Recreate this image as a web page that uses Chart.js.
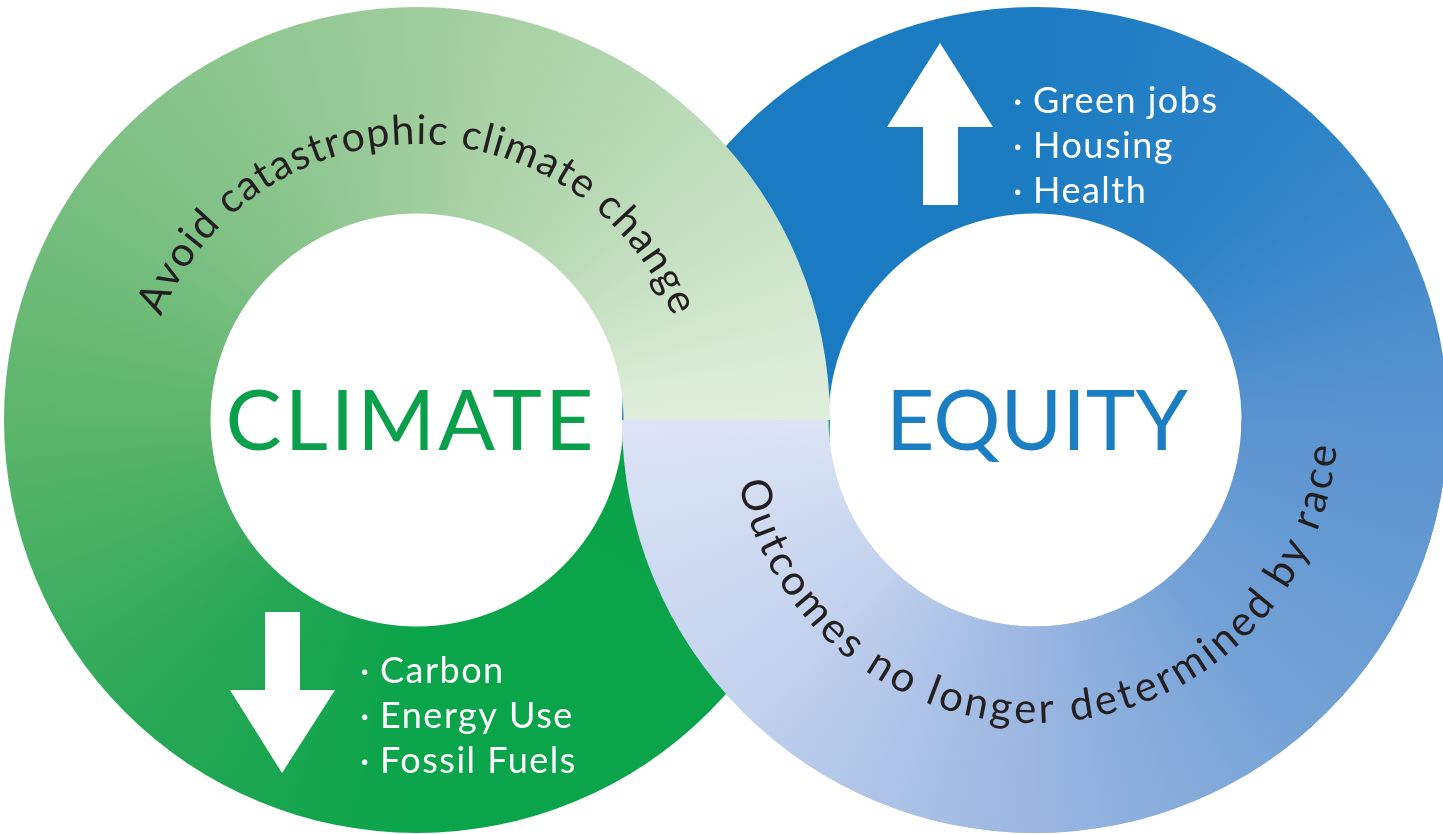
<!DOCTYPE html>
<html>
<head>
<meta charset="utf-8">
<script src="https://cdn.jsdelivr.net/npm/chart.js@4.4.0/dist/chart.umd.min.js"></script>
<style>
html, body { margin: 0; padding: 0; background: #fff; width: 1443px; height: 834px; overflow: hidden; }
.ring { position: absolute; }
.ring canvas { display: block; }
</style>
</head>
<body>
<div class="ring" id="equityBack"><canvas id="ringEquityBack" width="826" height="826"></canvas></div>
<div class="ring" id="climateRing"><canvas id="ringClimate" width="826" height="826"></canvas></div>
<div class="ring" id="equityFront"><canvas id="ringEquityFront" width="826" height="826"></canvas></div>
<script>
// dados do diagrama
const ringNames = ['CLIMATE', 'EQUITY'];
const halfLabels = ['Top half', 'Bottom half'];
const climateValues = [50, 50];
const equityValues = [50, 50];
const climateGoal = 'Avoid catastrophic climate change';
const equityGoal = 'Outcomes no longer determined by race';
const climateDown = ['Carbon', 'Energy Use', 'Fossil Fuels'];
const equityUp = ['Green jobs', 'Housing', 'Health'];

// geometria dos aneis
const R = 413;
const climateCenter = { x: 417, y: 420 };
const equityCenter = { x: 1035, y: 420 };

// cores (gradiente conico)
const climateStops = [[0, '#0aa34a'], [0.25, '#0aa44a'], [0.36, '#26a756'], [0.5, '#5cb56b'], [0.62, '#80c186'], [0.75, '#9fcd9c'], [0.88, '#bedcba'], [1, '#e1efdd']];
const equityStops = [[0, '#1a7ac1'], [0.25, '#1c7cc2'], [0.38, '#2f84c8'], [0.5, '#5a93cf'], [0.63, '#72a1d6'], [0.75, '#9ab6e1'], [0.88, '#c3d2ee'], [1, '#dce4f5']];

const FONT = 'Lato, "Open Sans", sans-serif';

function place(id, c) {
    const el = document.getElementById(id);
    el.style.left = (c.x - R) + 'px';
    el.style.top = (c.y - R) + 'px';
}
place('equityBack', equityCenter);
place('climateRing', climateCenter);
place('equityFront', equityCenter);

function centerOf(chart) {
    const a = chart.chartArea;
    return { x: (a.left + a.right) / 2, y: (a.top + a.bottom) / 2 };
}

function ringGradient(stops, start) {
    return function (context) {
        const chart = context.chart;
        if (!chart.chartArea) return stops[0][1];
        const c = centerOf(chart);
        const g = chart.ctx.createConicGradient(start, c.x, c.y);
        stops.forEach(s => g.addColorStop(s[0], s[1]));
        return g;
    };
}

// texto curvo ao longo do anel
function drawArcText(ctx, text, cx, cy, r, a0, a1, outward, size) {
    ctx.save();
    ctx.font = size + 'px ' + FONT;
    ctx.fillStyle = '#231f20';
    ctx.textAlign = 'center';
    ctx.textBaseline = 'alphabetic';
    const chars = [...text];
    const widths = chars.map(ch => ctx.measureText(ch).width);
    const total = widths.reduce((a, b) => a + b, 0);
    const gap = (Math.abs(a1 - a0) * r - total) / (chars.length - 1);
    const dir = a1 > a0 ? 1 : -1;
    let s = 0;
    chars.forEach((ch, i) => {
        const th = a0 + dir * (s + widths[i] / 2) / r;
        ctx.save();
        ctx.translate(cx + r * Math.cos(th), cy + r * Math.sin(th));
        ctx.rotate(outward ? th + Math.PI / 2 : th - Math.PI / 2);
        ctx.fillText(ch, 0, 0);
        ctx.restore();
        s += widths[i] + gap;
    });
    ctx.restore();
}

function drawBullets(ctx, items, x, y) {
    ctx.save();
    ctx.font = '36px ' + FONT;
    ctx.fillStyle = '#ffffff';
    ctx.textAlign = 'left';
    ctx.textBaseline = 'alphabetic';
    ctx.letterSpacing = '1.5px';
    items.forEach((t, i) => {
        ctx.fillText('\u00b7', x, y + i * 45);
        ctx.fillText(t, x + 20, y + i * 45);
    });
    ctx.restore();
}

// seta: pontos relativos ao centro
function drawArrow(ctx, pts) {
    ctx.save();
    ctx.fillStyle = '#ffffff';
    ctx.beginPath();
    pts.forEach((p, i) => i ? ctx.lineTo(p[0], p[1]) : ctx.moveTo(p[0], p[1]));
    ctx.closePath();
    ctx.fill();
    ctx.restore();
}

function centerLabel(ctx, text, c, color, spacing) {
    ctx.save();
    ctx.font = '84px ' + FONT;
    ctx.fillStyle = color;
    ctx.textAlign = 'center';
    ctx.textBaseline = 'alphabetic';
    ctx.letterSpacing = spacing;
    ctx.fillText(text, c.x, c.y + 30);
    ctx.restore();
}

const climateDeco = {
    id: 'climateDeco',
    afterDatasetsDraw(chart) {
        const ctx = chart.ctx;
        const c = centerOf(chart);
        centerLabel(ctx, ringNames[0], { x: c.x - 6, y: c.y }, '#0a9f4b', '3px');
        drawArcText(ctx, climateGoal, c.x, c.y, 276, 202 * Math.PI / 180, 338 * Math.PI / 180, true, 41);
        drawArrow(ctx, [
            [c.x - 152, c.y + 192], [c.x - 117, c.y + 192], [c.x - 117, c.y + 270], [c.x - 82, c.y + 270],
            [c.x - 135, c.y + 353], [c.x - 187, c.y + 270], [c.x - 152, c.y + 270]
        ]);
        drawBullets(ctx, climateDown, c.x - 57, c.y + 263);
    }
};

const equityDeco = {
    id: 'equityDeco',
    afterDatasetsDraw(chart) {
        const ctx = chart.ctx;
        const c = centerOf(chart);
        centerLabel(ctx, ringNames[1], { x: c.x + 2, y: c.y }, '#1b7ec2', '0px');
        drawArcText(ctx, equityGoal, c.x, c.y, 303, 168 * Math.PI / 180, 5 * Math.PI / 180, false, 42);
        drawArrow(ctx, [
            [c.x - 95, c.y - 377], [c.x - 42, c.y - 293], [c.x - 77, c.y - 293], [c.x - 77, c.y - 215],
            [c.x - 112, c.y - 215], [c.x - 112, c.y - 293], [c.x - 148, c.y - 293]
        ]);
        drawBullets(ctx, equityUp, c.x - 22, c.y - 307);
    }
};

function ringChart(canvasId, values, stops, start, visible, deco) {
    const grad = ringGradient(stops, start);
    return new Chart(document.getElementById(canvasId), {
        type: 'doughnut',
        data: {
            labels: halfLabels,
            datasets: [{
                data: values,
                backgroundColor: ctx => visible[ctx.dataIndex] ? grad(ctx) : 'rgba(0,0,0,0)',
                borderWidth: 0,
                hoverOffset: 0,
            }],
        },
        options: {
            responsive: false,
            animation: false,
            events: [],
            cutout: '50%',
            rotation: -90,
            layout: { padding: 0 },
            plugins: {
                legend: { display: false },
                tooltip: { enabled: false },
            },
        },
        plugins: deco ? [deco] : [],
    });
}

// camadas: anel azul atras, anel verde, metade inferior azul na frente
ringChart('ringEquityBack', equityValues, equityStops, Math.PI, [true, true], null);
ringChart('ringClimate', climateValues, climateStops, 0, [true, true], climateDeco);
ringChart('ringEquityFront', equityValues, equityStops, Math.PI, [false, true], equityDeco);
</script>
</body>
</html>
